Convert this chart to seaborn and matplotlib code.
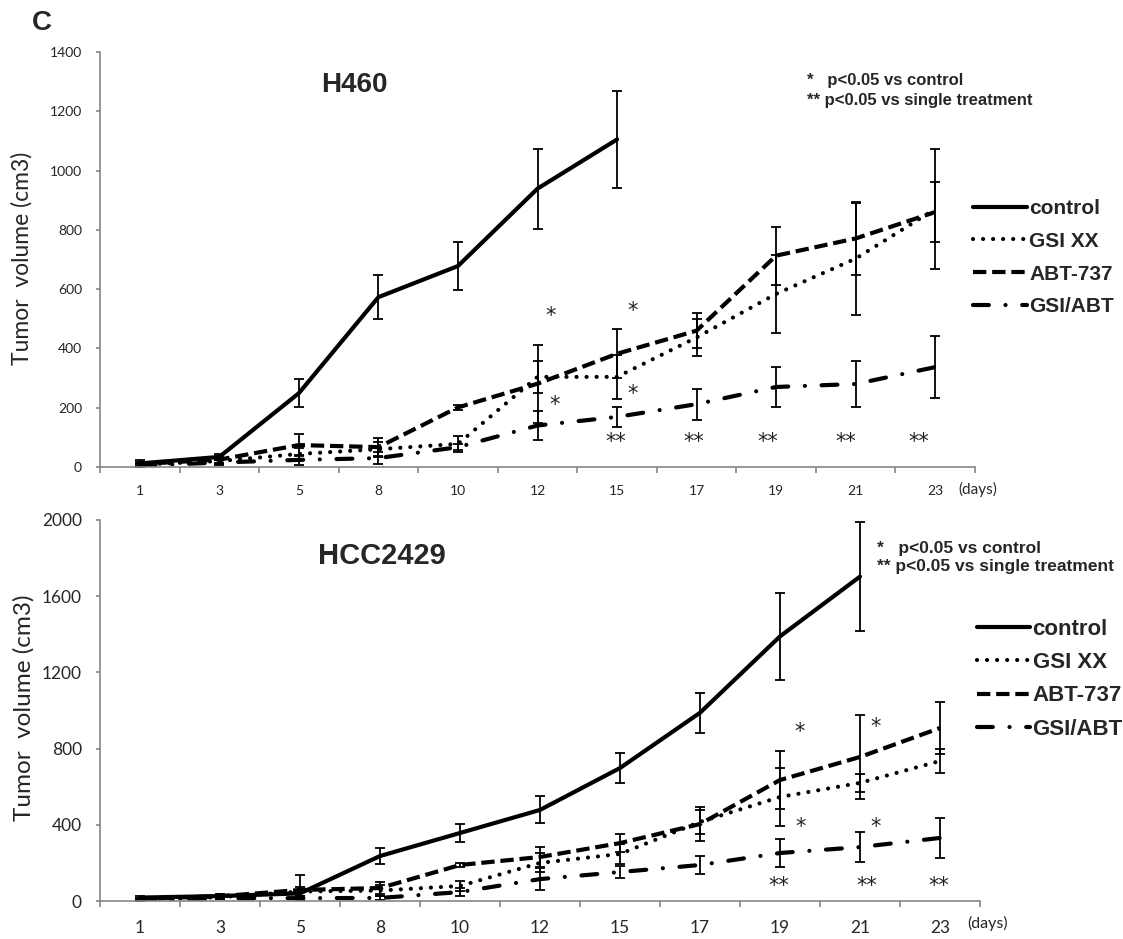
import numpy as np
import pandas as pd
import seaborn as sns
import matplotlib.pyplot as plt

# ---- data ----
days = ['1', '3', '5', '8', '10', '12', '15', '17', '19', '21', '23']
groups = ['control', 'GSI XX', 'ABT-737', 'GSI/ABT']

# H460 panel (control stops at day 15)
h460_control = [12, 34, 249, 573, 678, 939, 1105]
h460_control_err = [12, 10, 48, 74, 81, 135, 165]
h460_gsi = [8, 20, 44, 60, 78, 304, 304, 437, 584, 703, 870]
h460_gsi_err = [6, 10, 20, 25, 27, 55, 75, 63, 132, 189, 203]
h460_abt = [10, 25, 74, 67, 201, 281, 382, 460, 713, 771, 860]
h460_abt_err = [8, 12, 37, 31, 8, 132, 83, 58, 98, 122, 100]
h460_combo = [5, 15, 24, 30, 67, 140, 169, 212, 270, 280, 337]
h460_combo_err = [4, 8, 18, 20, 10, 48, 34, 52, 69, 78, 105]

# HCC2429 panel (control stops at day 21)
hcc_control = [18, 26, 40, 236, 357, 478, 698, 988, 1389, 1703]
hcc_control_err = [10, 10, 15, 44, 47, 71, 79, 106, 229, 288]
hcc_gsi = [8, 20, 50, 55, 79, 200, 247, 415, 546, 620, 735]
hcc_gsi_err = [5, 10, 25, 30, 25, 50, 52, 62, 152, 48, 63]
hcc_abt = [12, 25, 58, 68, 189, 231, 304, 404, 635, 756, 908]
hcc_abt_err = [6, 10, 78, 32, 9, 53, 48, 88, 153, 220, 137]
hcc_combo = [5, 15, 15, 16, 47, 115, 152, 189, 252, 283, 331]
hcc_combo_err = [3, 6, 10, 10, 20, 58, 30, 45, 75, 79, 105]

# significance marks: (day, shift in categories, value, text)
h460_marks = [('12', 0.17, 509, '*'), ('15', 0.19, 526, '*'),
              ('12', 0.21, 209, '*'), ('15', 0.19, 246, '*'),
              ('15', -0.02, 84, '**'), ('17', -0.04, 84, '**'), ('19', -0.11, 84, '**'),
              ('21', -0.13, 84, '**'), ('23', -0.21, 84, '**')]
hcc_marks = [('19', 0.25, 887, '*'), ('21', 0.2, 914, '*'),
             ('19', 0.26, 388, '*'), ('21', 0.2, 388, '*'),
             ('19', -0.01, 79, '**'), ('21', 0.09, 79, '**'), ('23', -0.01, 79, '**')]

dash_styles = {
    'control': (None, None),
    'GSI XX': (0.01, 2.4),
    'ABT-737': (3.2, 1.4),
    'GSI/ABT': (3.8, 4.0, 0.01, 4.0),
}

sns.set_style('white')
plt.rcParams['font.family'] = ['Lato', 'DejaVu Sans']
ARIAL = 'Liberation Sans'
GRAY = '#868686'

W, H = 1123, 939
fig = plt.figure(figsize=(W / 100, H / 100), dpi=100)


def long_frame(series):
    rows = []
    for name, (vals, errs) in series.items():
        for i, (v, e) in enumerate(zip(vals, errs)):
            rows.append({'pos': i, 'day': days[i], 'group': name, 'volume': v, 'err': e})
    return pd.DataFrame(rows)


def draw_panel(ax, df, marks, ymax, ystep, tick_fs):
    for name in groups:
        sub = df[df['group'] == name]
        ls = '-' if name == 'control' else (0, dash_styles[name])
        cap = 'butt' if name in ('control', 'ABT-737') else 'round'
        sns.lineplot(data=sub, x='pos', y='volume', ax=ax, color='black',
                     linewidth=3, linestyle=ls, dash_capstyle=cap,
                     label=name, estimator=None, sort=False, legend=False)
        ax.errorbar(sub['pos'], sub['volume'], yerr=sub['err'], fmt='none',
                    ecolor='black', elinewidth=1.3, capsize=3.5, capthick=1.3)
    for day, shift, val, txt in marks:
        ax.text(days.index(day) + shift, val, txt, ha='center', va='center',
                fontsize=15, family='DejaVu Sans', color='#222222')

    ax.set_xlim(-0.5, 10.5)
    ax.set_ylim(0, ymax)
    ax.set_yticks(np.arange(0, ymax + 1, ystep))
    ax.set_xticks(range(len(days)))
    ax.set_xticklabels(days)
    ax.set_xticks(np.arange(-0.5, len(days)), minor=True)
    ax.set_xlabel('')
    ax.set_ylabel('')
    for s in ['top', 'right']:
        ax.spines[s].set_visible(False)
    for s in ['left', 'bottom']:
        ax.spines[s].set_color(GRAY)
        ax.spines[s].set_linewidth(1.2)
    ax.tick_params(axis='x', which='major', bottom=True, length=0, pad=13,
                   labelsize=tick_fs)
    ax.tick_params(axis='x', which='minor', bottom=True, length=4.5, width=1.2,
                   color=GRAY, direction='out')
    ax.tick_params(axis='y', left=True, length=3, width=1.2, color=GRAY,
                   direction='out', pad=10, labelsize=tick_fs)


# ---- top panel: H460 ----
ax1 = fig.add_axes([100 / W, 1 - 467 / H, 875 / W, 415 / H])
df1 = long_frame({
    'control': (h460_control, h460_control_err),
    'GSI XX': (h460_gsi, h460_gsi_err),
    'ABT-737': (h460_abt, h460_abt_err),
    'GSI/ABT': (h460_combo, h460_combo_err),
})
draw_panel(ax1, df1, h460_marks, 1400, 200, 10)
h, l = ax1.get_legend_handles_labels()
ax1.legend(h, l, loc='upper left', bbox_to_anchor=(973 / W, 1 - 199 / H),
           bbox_transform=fig.transFigure, frameon=False, borderpad=0,
           borderaxespad=0, handlelength=2.6, handletextpad=0.1,
           labelspacing=0.66, prop={'family': ARIAL, 'weight': 'bold', 'size': 15})

# ---- bottom panel: HCC2429 ----
ax2 = fig.add_axes([100 / W, 1 - 901 / H, 880 / W, 381 / H])
df2 = long_frame({
    'control': (hcc_control, hcc_control_err),
    'GSI XX': (hcc_gsi, hcc_gsi_err),
    'ABT-737': (hcc_abt, hcc_abt_err),
    'GSI/ABT': (hcc_combo, hcc_combo_err),
})
draw_panel(ax2, df2, hcc_marks, 2000, 400, 12.5)
ax2.tick_params(axis='x', which='major', pad=14)
h, l = ax2.get_legend_handles_labels()
ax2.legend(h, l, loc='upper left', bbox_to_anchor=(977 / W, 1 - 619 / H),
           bbox_transform=fig.transFigure, frameon=False, borderpad=0,
           borderaxespad=0, handlelength=2.4, handletextpad=0.1,
           labelspacing=0.55, prop={'family': ARIAL, 'weight': 'bold', 'size': 16})

# ---- texts ----
fig.text(42 / W, 1 - 23 / H, 'C', family=ARIAL, weight='bold', fontsize=20,
         ha='center', va='center')
fig.text(354 / W, 1 - 85 / H, 'H460', family=ARIAL, weight='bold', fontsize=20,
         ha='center', va='center')
fig.text(382 / W, 1 - 556 / H, 'HCC2429', family=ARIAL, weight='bold', fontsize=21,
         ha='center', va='center')
fig.text(22 / W, 1 - 258 / H, 'Tumor  volume (cm3)', rotation=90, fontsize=16.5,
         ha='center', va='center')
fig.text(24 / W, 1 - 708 / H, 'Tumor  volume (cm3)', rotation=90, fontsize=17.5,
         ha='center', va='center')
fig.text(807 / W, 1 - 81 / H, '*   p<0.05 vs control', family=ARIAL, weight='bold',
         fontsize=12, va='center')
fig.text(807 / W, 1 - 101 / H, '** p<0.05 vs single treatment', family=ARIAL,
         weight='bold', fontsize=12, va='center')
fig.text(877 / W, 1 - 548 / H, '*   p<0.05 vs control', family=ARIAL, weight='bold',
         fontsize=12.5, va='center')
fig.text(877 / W, 1 - 567 / H, '** p<0.05 vs single treatment', family=ARIAL,
         weight='bold', fontsize=12.5, va='center')
fig.text(958 / W, 1 - 489 / H, '(days)', fontsize=11, va='center')
fig.text(967 / W, 1 - 923 / H, '(days)', fontsize=11.5, va='center')

fig.savefig('out.png', dpi=100)
